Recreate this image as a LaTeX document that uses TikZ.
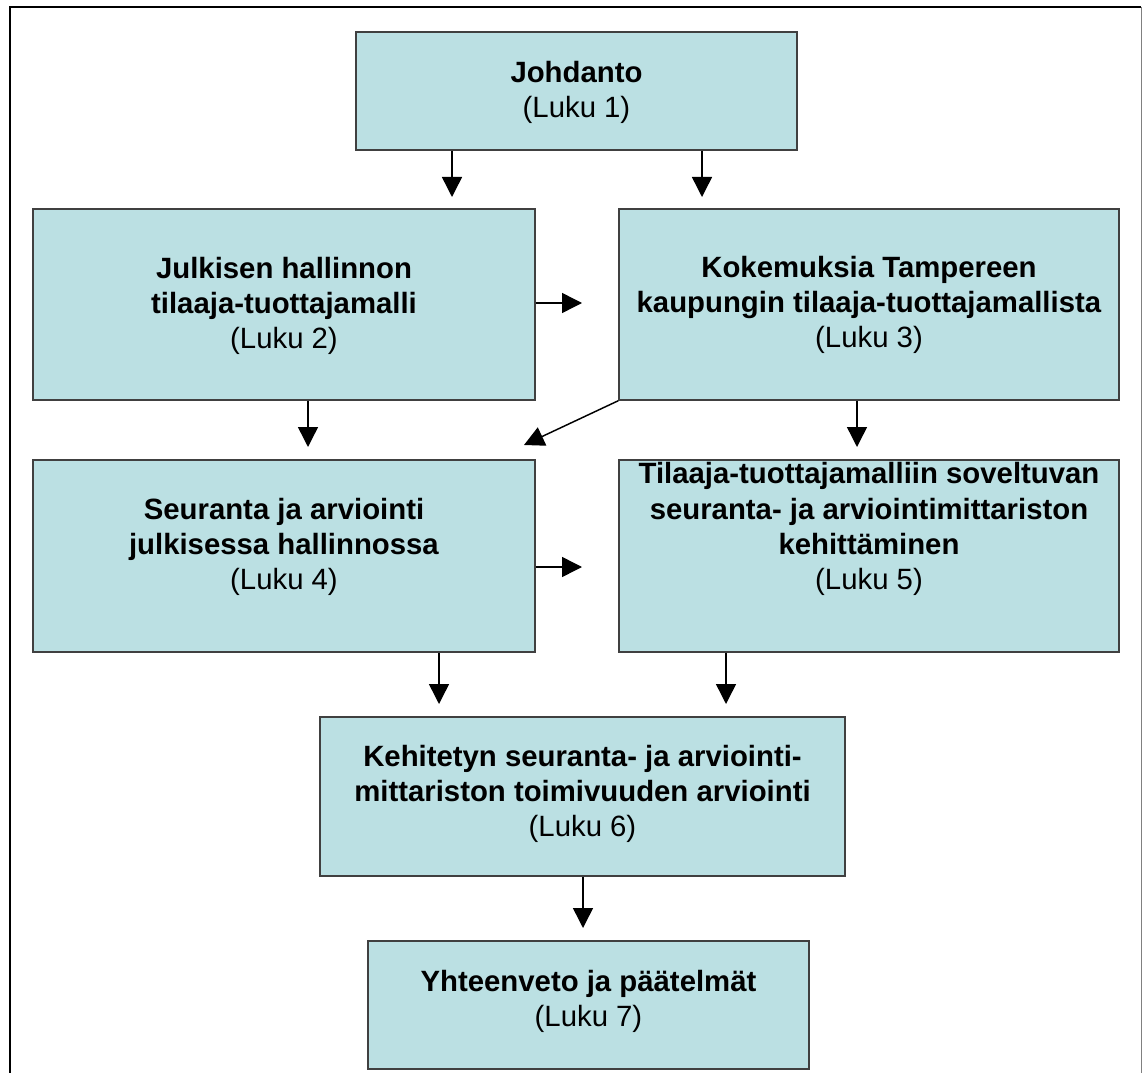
\documentclass[tikz,border=0pt]{standalone}
\usepackage{fontspec}
\setmainfont{Liberation Sans}
\usetikzlibrary{arrows.meta}
\definecolor{boxfill}{RGB}{187,224,227}
\definecolor{boxline}{RGB}{64,64,64}
\begin{document}
\begin{tikzpicture}[x=0.75pt,y=-0.75pt,
  box/.style={draw=boxline, fill=boxfill, line width=1.1pt, rectangle, inner sep=0pt},
  txt/.style={align=center, inner sep=0pt, font=\fontsize{22}{26.3}\selectfont},
  arr/.style={draw=black, line width=1.1pt, -{Triangle[width=15pt,length=15pt]}}]
\useasboundingbox (0,0) rectangle (1142,1073);
\fill[white] (0,0) rectangle (1142,1073);
% frame
\draw[black, line width=1.5pt] (10,1073) -- (10,7) -- (1141,7);
\draw[gray, line width=0.75pt] (1141,7) -- (1141,1073);
% boxes
\node[box, minimum width=330.75pt, minimum height=88.5pt] (b1) at (576.5,91) {};
\node[box, minimum width=376.5pt, minimum height=143.25pt] (b2) at (284,304.5) {};
\node[box, minimum width=375pt, minimum height=143.25pt] (b3) at (869,304.5) {};
\node[box, minimum width=376.5pt, minimum height=144pt] (b4) at (284,556) {};
\node[box, minimum width=375pt, minimum height=144pt] (b5) at (869,556) {};
\node[box, minimum width=393.75pt, minimum height=119.25pt] (b6) at (582.5,796.5) {};
\node[box, minimum width=330.75pt, minimum height=96pt] (b7) at (588.5,1005) {};
% texts
\node[txt] (t1) at (576.5,92) {\textbf{Johdanto}\\(Luku 1)};
\node[txt] (t2) at (284,306) {\textbf{Julkisen hallinnon}\\\textbf{tilaaja-tuottajamalli}\\(Luku 2)};
\node[txt] (t3) at (869,305) {\textbf{Kokemuksia Tampereen}\\\textbf{kaupungin tilaaja-tuottajamallista}\\(Luku 3)};
\node[txt] (t4) at (284,547) {\textbf{Seuranta ja arviointi}\\\textbf{julkisessa hallinnossa}\\(Luku 4)};
\node[txt] (t5) at (869,529) {\textbf{Tilaaja-tuottajamalliin soveltuvan}\\\textbf{seuranta- ja arviointimittariston}\\\textbf{kehittäminen}\\(Luku 5)};
\node[txt] (t6) at (582.5,794) {\textbf{Kehitetyn seuranta- ja arviointi-}\\\textbf{mittariston toimivuuden arviointi}\\(Luku 6)};
\node[txt] (t7) at (588.5,1001) {\textbf{Yhteenveto ja päätelmät}\\(Luku 7)};
% arrow end points
\coordinate (a12) at (452,197);
\coordinate (a13) at (702,197);
\coordinate (a23) at (582,303);
\coordinate (a24) at (308,447);
\coordinate (a34) at (524,445);
\coordinate (a35) at (857,447);
\coordinate (a45) at (582,567);
\coordinate (a46) at (439,704);
\coordinate (a56) at (726,704);
\coordinate (a67) at (583,928);
% connectors
\draw[arr] (b1.south -| a12) -- (a12);
\draw[arr] (b1.south -| a13) -- (a13);
\draw[arr] (b2.east |- a23) -- (a23);
\draw[arr] (b2.south -| a24) -- (a24);
\draw[arr] (b3.south west) -- (a34);
\draw[arr] (b3.south -| a35) -- (a35);
\draw[arr] (b4.east |- a45) -- (a45);
\draw[arr] (b4.south -| a46) -- (a46);
\draw[arr] (b5.south -| a56) -- (a56);
\draw[arr] (b6.south -| a67) -- (a67);
\end{tikzpicture}
\end{document}
